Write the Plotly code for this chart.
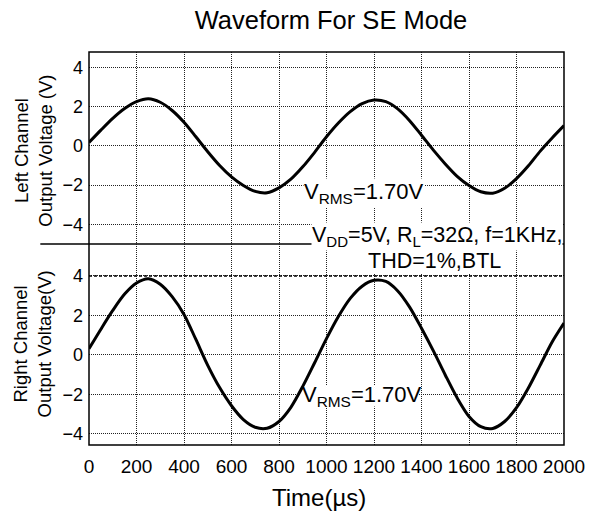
import plotly.graph_objects as go

# ---- data ----
time_ticks = [0, 200, 400, 600, 800, 1000, 1200, 1400, 1600, 1800, 2000]
volt_ticks = [-4, -2, 0, 2, 4]

time_us = [0, 50, 100, 150, 200, 250, 300, 350, 400, 450, 500, 550, 600, 650, 700, 750, 800, 850, 900, 950,
           1000, 1050, 1100, 1150, 1200, 1250, 1300, 1350, 1400, 1450, 1500, 1550, 1600, 1650, 1700, 1750,
           1800, 1850, 1900, 1950, 2000]

left_v = [0.17, 0.80, 1.40, 1.90, 2.25, 2.40, 2.22, 1.80, 1.20, 0.46, -0.30, -1.00, -1.58, -2.02, -2.32, -2.39,
          -2.14, -1.70, -1.07, -0.33, 0.46, 1.16, 1.74, 2.15, 2.33, 2.25, 1.88, 1.28, 0.54, -0.22, -0.92,
          -1.55, -2.02, -2.34, -2.41, -2.16, -1.67, -1.02, -0.27, 0.40, 1.03]

right_v = [0.31, 1.30, 2.25, 3.08, 3.64, 3.86, 3.58, 2.95, 2.05, 0.78, -0.53, -1.66, -2.58, -3.28, -3.67, -3.72,
           -3.38, -2.66, -1.60, -0.40, 0.82, 1.94, 2.86, 3.48, 3.78, 3.72, 3.24, 2.42, 1.35, 0.20, -1.02,
           -2.18, -3.12, -3.64, -3.73, -3.38, -2.68, -1.68, -0.52, 0.65, 1.61]

title_text = "Waveform For SE Mode"
left_title = "Left Channel<br>Output Voltage (V)"
right_title = "Right Channel<br>Output Voltage(V)"
x_title = "Time(µs)"
vrms_text = "V<sub>RMS</sub>=1.70V"
cond_line1 = "V<sub>DD</sub>=5V, R<sub>L</sub>=32Ω, f=1KHz,"
cond_line2 = "THD=1%,BTL"

FONT = "Liberation Sans, Arial, sans-serif"
split = 0.5115

fig = go.Figure()
fig.add_trace(go.Scatter(x=time_us, y=left_v, mode="lines",
                         line=dict(color="black", width=3, shape="spline", smoothing=0.8),
                         xaxis="x2", yaxis="y2", showlegend=False, hoverinfo="skip"))
fig.add_trace(go.Scatter(x=time_us, y=right_v, mode="lines",
                         line=dict(color="black", width=3, shape="spline", smoothing=0.8),
                         xaxis="x", yaxis="y", showlegend=False, hoverinfo="skip"))

grid = dict(showgrid=True, gridcolor="#222", gridwidth=1, griddash="1px,1px", zeroline=False, showline=False)

fig.update_layout(
    width=597, height=512,
    margin=dict(l=89, r=30, t=52, b=67),
    paper_bgcolor="white", plot_bgcolor="white",
    font=dict(family=FONT, color="black"),
    title=dict(text=title_text, x=331/597, xanchor="center", y=1-20/512, yanchor="middle",
               font=dict(size=25.5, family=FONT)),
    xaxis=dict(domain=[0, 1], range=[0, 2000], anchor="y", tickmode="array", tickvals=time_ticks,
               ticks="", ticklabelstandoff=8, tickfont=dict(size=19), **grid),
    xaxis2=dict(domain=[0, 1], range=[0, 2000], anchor="y2", matches="x", tickmode="array", tickvals=time_ticks,
                showticklabels=False, ticks="", **grid),
    yaxis=dict(domain=[0, split], range=[-4.57, 5.62], anchor="x", tickmode="array", tickvals=volt_ticks,
               ticks="", ticklabelstandoff=5, tickfont=dict(size=18), **grid),
    yaxis2=dict(domain=[split, 1], range=[-5.0, 4.78], anchor="x2", tickmode="array", tickvals=volt_ticks,
                ticks="", ticklabelstandoff=5, tickfont=dict(size=18), **grid),
)

shapes = [
    dict(type="rect", xref="paper", yref="paper", x0=0, x1=1, y0=0, y1=1,
         line=dict(color="black", width=1.5), layer="above"),
    dict(type="line", xref="paper", yref="paper", x0=-0.1025, x1=1, y0=split, y1=split,
         line=dict(color="black", width=1.5), layer="above"),
    dict(type="line", xref="paper", yref="y", x0=0, x1=1, y0=4, y1=4,
         line=dict(color="black", width=1.5, dash="3px,2px"), layer="above"),
    # white backing behind the lower V_RMS label (the curve stays drawn above it)
    dict(type="rect", xref="x", yref="y", x0=885, x1=1385, y0=-2.62, y1=-1.58,
         fillcolor="white", line=dict(width=0), layer="between"),
]
fig.update_layout(shapes=shapes)

annotations = [
    dict(text=left_title, xref="paper", yref="paper", x=-0.117, y=0.75, xanchor="center", yanchor="middle",
         textangle=-90, showarrow=False, font=dict(size=18.5)),
    dict(text=right_title, xref="paper", yref="paper", x=-0.117, y=0.257, xanchor="center", yanchor="middle",
         textangle=-90, showarrow=False, font=dict(size=18.5)),
    dict(text=x_title, xref="paper", yref="paper", x=(320-89)/478, y=(445-497)/393, xanchor="center",
         yanchor="middle", showarrow=False, font=dict(size=24)),
    dict(text=vrms_text, xref="x2", yref="y2", x=900, y=-2.42, xanchor="left", yanchor="middle",
         showarrow=False, font=dict(size=22), bgcolor="white", borderpad=0),
    dict(text=vrms_text, xref="x", yref="y", x=888, y=-2.1, xanchor="left", yanchor="middle",
         showarrow=False, font=dict(size=22)),
    dict(text=cond_line1, xref="paper", yref="paper", x=(439.5-89)/478, y=(445-236)/393, xanchor="center",
         yanchor="middle", showarrow=False, font=dict(size=21.5), bgcolor="white", borderpad=0),
    dict(text=cond_line2, xref="paper", yref="paper", x=(437-89)/478, y=(445-261)/393, xanchor="center",
         yanchor="middle", showarrow=False, font=dict(size=21.5), bgcolor="white", borderpad=0),
]
fig.update_layout(annotations=annotations)

fig.write_html("out.html", config={"displayModeBar": False},
               post_script="document.body.style.margin='0';")
